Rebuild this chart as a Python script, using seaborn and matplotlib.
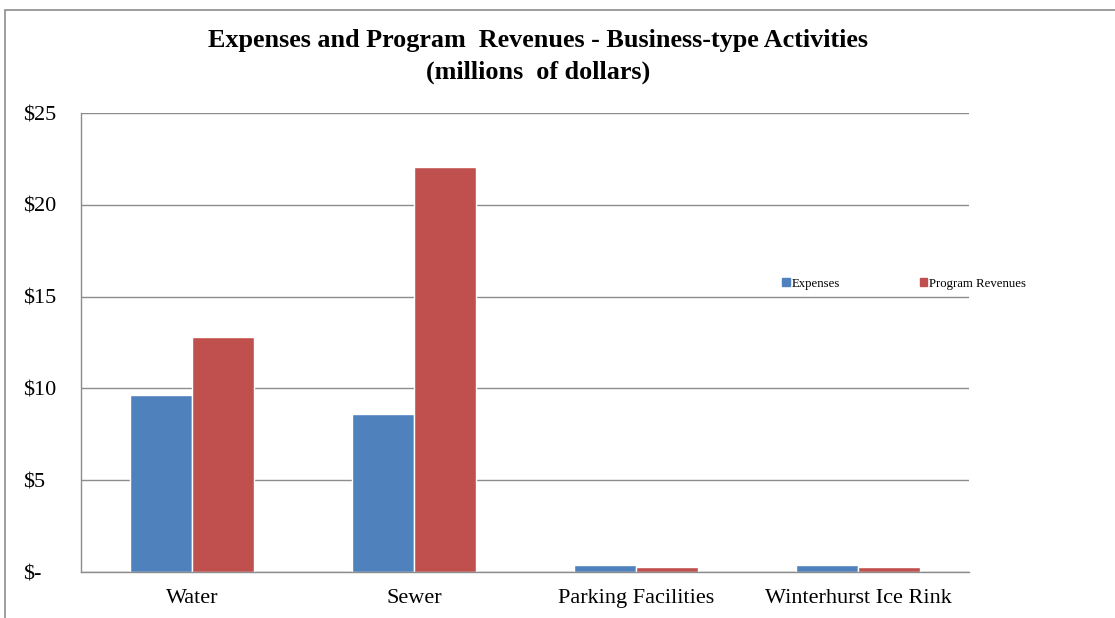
import numpy as np
import seaborn as sns
import matplotlib.pyplot as plt
import pandas as pd
from matplotlib.patches import Rectangle

categories = ["Water", "Sewer", "Parking Facilities", "Winterhurst Ice Rink"]
expenses = [9.65, 8.6, 0.4, 0.4]
revenues = [12.8, 22.05, 0.3, 0.3]
yticks = [0, 5, 10, 15, 20, 25]
ylabels = ["$-", "$5", "$10", "$15", "$20", "$25"]

df = pd.DataFrame({
    "activity": categories * 2,
    "amount": expenses + revenues,
    "kind": ["Expenses"] * 4 + ["Program Revenues"] * 4,
})

sns.set_style("white")
plt.rcParams["font.family"] = ["Liberation Serif", "DejaVu Serif"]
plt.rcParams["text.color"] = "black"
plt.rcParams["xtick.color"] = "black"
plt.rcParams["ytick.color"] = "black"

fig = plt.figure(figsize=(11.15, 6.18), dpi=100)
ax = fig.add_axes([0.0726, 0.0744, 0.7964, 0.7426])

bar = sns.barplot(data=df, x="activity", y="amount", hue="kind",
                  palette=["#4F81BD", "#C0504D"], width=0.56, saturation=1,
                  ax=ax, legend=False)

ax.set_ylim(0, 25)
ax.set_yticks(yticks)
ax.set_yticklabels(ylabels)
ax.set_xlabel("")
ax.set_ylabel("")
ax.yaxis.grid(True, color="#8c8c8c", linewidth=1)
ax.set_axisbelow(True)
for s in ["top", "right"]:
    ax.spines[s].set_visible(False)
for s in ["left", "bottom"]:
    ax.spines[s].set_color("#8c8c8c")
    ax.spines[s].set_linewidth(1)
ax.tick_params(axis="both", length=0, labelsize=16, labelcolor="black")
ax.tick_params(axis="y", pad=42)
for t in ax.get_yticklabels():
    t.set_horizontalalignment("left")
ax.tick_params(axis="x", pad=12)

fig.text(0.4825, 0.935, "Expenses and Program  Revenues - Business-type Activities",
         ha="center", va="center", fontsize=18.8, fontweight="bold", color="black")
fig.text(0.4825, 0.883, "(millions  of dollars)",
         ha="center", va="center", fontsize=18.8, fontweight="bold", color="black")

handles = [Rectangle((0, 0), 1, 1, color="#4F81BD"), Rectangle((0, 0), 1, 1, color="#C0504D")]
fig.legend(handles, ["Expenses", "Program Revenues"], loc="center",
           bbox_to_anchor=(0.811, 0.541), ncol=2, frameon=False, fontsize=9.2,
           handlelength=0.6, handleheight=0.6, handletextpad=0.15, columnspacing=6.2)

# outer chart border
fig.patches.append(Rectangle((5 / 1115, -0.05), 1.2, 0.05 + (618 - 10) / 618,
                             transform=fig.transFigure, fill=False,
                             edgecolor="#8c8c8c", linewidth=1.2))

plt.savefig("out.png", dpi=100)
